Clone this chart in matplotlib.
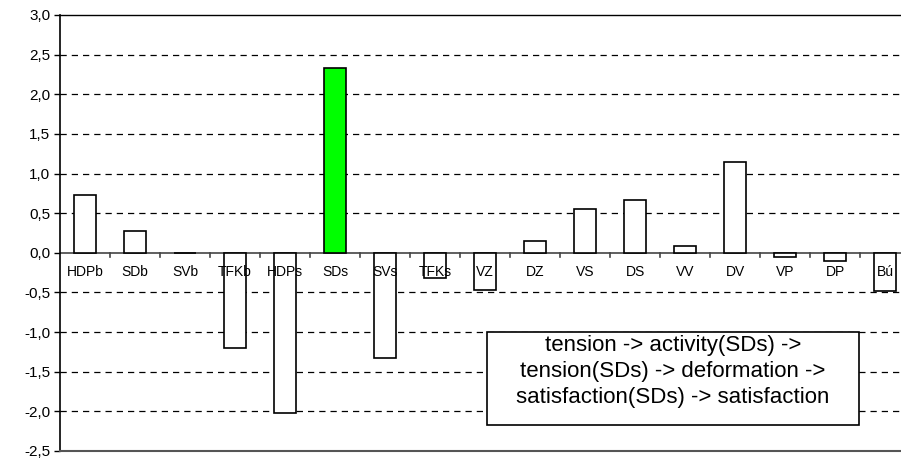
import matplotlib.pyplot as plt
from matplotlib.patches import Rectangle
import numpy as np

plt.rcParams['font.family'] = ['Liberation Sans', 'DejaVu Sans']

categories = ['HDPb', 'SDb', 'SVb', 'TFKb', 'HDPs', 'SDs', 'SVs', 'TFKs', 'VZ',
              'DZ', 'VS', 'DS', 'VV', 'DV', 'VP', 'DP', 'Bú']
values = [0.73, 0.27, 0.0, -1.20, -2.02, 2.33, -1.33, -0.32, -0.47,
          0.15, 0.55, 0.67, 0.09, 1.15, -0.05, -0.10, -0.48]
highlight = 'SDs'
yticks = np.arange(-2.5, 3.01, 0.5)
note = 'tension -> activity(SDs) ->\ntension(SDs) -> deformation ->\nsatisfaction(SDs) -> satisfaction'

fig = plt.figure(figsize=(9.01, 4.59), dpi=100)
W, H = 901, 459
ax = fig.add_axes([60 / W, 1 - 451 / H, 850 / W, 436 / H])

x = np.arange(len(categories))
colors = ['#00ff00' if c == highlight else 'white' for c in categories]
ax.bar(x, values, width=0.44, color=colors, edgecolor='black', linewidth=1.2, zorder=3)

ax.set_xlim(-0.5, len(categories) - 0.5)
ax.set_ylim(-2.5, 3.0)
ax.set_yticks(yticks)
ax.set_yticklabels([f'{v:.1f}'.replace('.', ',') for v in yticks], fontsize=11)
ax.tick_params(axis='y', length=4, width=1, direction='out', pad=3)
for v in yticks[1:-1]:
    if abs(v) > 1e-9:
        ax.axhline(v, color='black', linestyle=(0, (5, 4)), linewidth=0.9, zorder=1)

# category axis at zero
ax.axhline(0, color='#444444', linewidth=1.2, zorder=2)
for b in np.arange(0.5, len(categories) - 0.5, 1.0):
    ax.plot([b, b], [0, -0.05], color='#444444', linewidth=1.2, zorder=2)
for xi, c in zip(x, categories):
    ax.text(xi, -0.15, c, ha='center', va='top', fontsize=10, zorder=4)

ax.set_xticks([])
ax.spines['right'].set_visible(False)
ax.spines['left'].set_linewidth(1.2)
ax.spines['top'].set_linewidth(1.0)
ax.spines['bottom'].set_color('#555555')
ax.spines['bottom'].set_linewidth(1.5)

# note box
fig.patches.append(Rectangle((487 / W, 1 - 425 / H), 372 / W, 93 / H,
                             transform=fig.transFigure, facecolor='white',
                             edgecolor='black', linewidth=1.2, zorder=5))
fig.text(673 / W, 1 - 335 / H, note, ha='center', va='top', fontsize=16,
         linespacing=1.3, zorder=6)

fig.savefig('out.png', dpi=100)
